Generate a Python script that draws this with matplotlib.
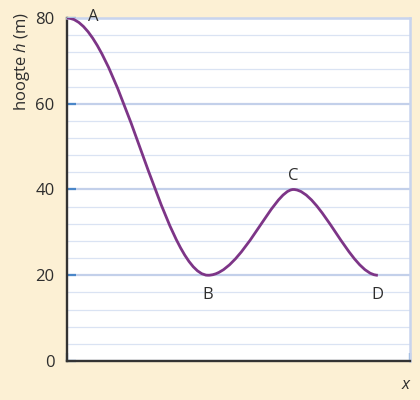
import numpy as np
import matplotlib
matplotlib.use('Agg')
from matplotlib import pyplot as plt
from matplotlib.path import Path
from matplotlib.patches import PathPatch
from matplotlib.ticker import MultipleLocator

plt.rcParams['font.family'] = ['Open Sans', 'DejaVu Sans']
plt.rcParams['font.size'] = 12
plt.rcParams['mathtext.fontset'] = 'custom'
plt.rcParams['mathtext.it'] = 'Open Sans:italic'

# Key points of the track (x has the same scale as h)
point_names = ['A', 'B', 'C', 'D']
point_x = [0.0, 32.9, 52.8, 72.5]
point_h = [80, 20, 40, 20]

y_ticks = [0, 20, 40, 60, 80]
x_range = [0, 80]

# Bezier handle lengths (fraction of segment width) for a smooth curve
handles = [(0.36, 0.32), (0.39, 0.24), (0.32, 0.32)]

bg = '#fcf0d4'
purple = '#7d3587'
grid_minor = '#dae3f3'
grid_major = '#c3d0ea'
tick_blue = '#4a86c8'
dark = '#2e2e2e'

fig = plt.figure(figsize=(4.2, 4.0), dpi=100, facecolor=bg)
ax = fig.add_axes([67 / 420, 39 / 400, 343 / 420, 343 / 400])
ax.set_facecolor('white')

# smooth curve through the key points
verts = [(point_x[0], point_h[0])]
codes = [Path.MOVETO]
for i, (a, b) in enumerate(handles):
    x0, h0 = point_x[i], point_h[i]
    x1, h1 = point_x[i + 1], point_h[i + 1]
    w = x1 - x0
    verts += [(x0 + a * w, h0), (x1 - b * w, h1), (x1, h1)]
    codes += [Path.CURVE4] * 3
ax.add_patch(PathPatch(Path(verts, codes), facecolor='none',
                       edgecolor=purple, lw=2.0, capstyle='butt', zorder=3))

# point labels
offsets = {'A': (19, 0.5), 'B': (0, -14.5), 'C': (0, 10), 'D': (0, -14)}
for name, x, h in zip(point_names, point_x, point_h):
    ax.annotate(name, (x, h), xytext=offsets[name], textcoords='offset points',
                ha='center', va='center', color=dark, fontsize=12,
                annotation_clip=False)

ax.set_xlim(x_range)
ax.set_ylim(0, 80)
ax.set_yticks(y_ticks)
ax.yaxis.set_minor_locator(MultipleLocator(4))
ax.set_xticks(x_range)
ax.set_xticklabels([])
ax.grid(which='minor', axis='y', color=grid_minor, lw=0.9)
ax.grid(which='major', axis='y', color=grid_major, lw=1.6)
ax.set_axisbelow(True)

ax.tick_params(axis='y', which='major', direction='in', length=6.5, width=1.6,
               color=tick_blue, labelcolor=dark, pad=9, labelsize=12)
ax.tick_params(axis='y', which='minor', length=0)
ax.tick_params(axis='x', direction='in', length=6, width=1.6, color=tick_blue)

for s in ['left', 'bottom']:
    ax.spines[s].set_color('#333333')
    ax.spines[s].set_linewidth(1.7)
for s in ['top', 'right']:
    ax.spines[s].set_color('#c8d4ee')
    ax.spines[s].set_linewidth(1.8)

fig.text(22.5 / 420, 1 - 12 / 400, 'hoogte $\\mathit{h}$ (m)', rotation=90,
         ha='center', va='top', color=dark, fontsize=12)
fig.text(406 / 420, 1 - 385 / 400, 'x', style='italic', ha='center', va='center',
         color=dark, fontsize=12)

fig.savefig('out.png', dpi=100, facecolor=bg)
